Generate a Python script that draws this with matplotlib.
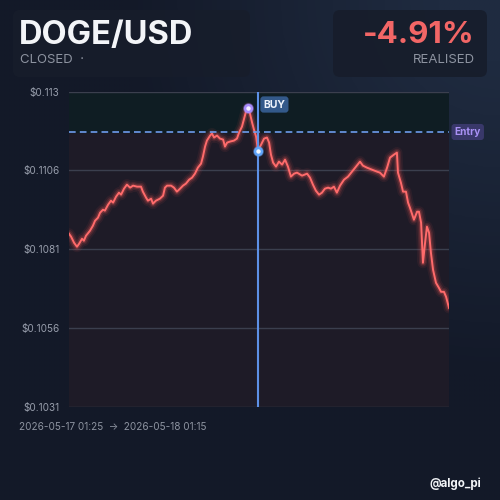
import numpy as np
import matplotlib.pyplot as plt
from matplotlib.patches import FancyBboxPatch

# minutes since 2026-05-17 01:25
minutes = [0, 8, 19, 30, 38, 49, 56, 64, 79, 90, 98, 109, 117, 128, 135, 147, 158, 166, 177, 188,
           196, 207, 218, 230, 241, 256, 271, 278, 290, 297, 309, 316, 327, 342, 354, 361, 369, 384,
           395, 406, 418, 429, 440, 452, 463, 474, 485, 497, 504, 512, 519, 531, 538, 546, 557, 568,
           580, 587, 595, 606, 621, 632, 640, 651, 659, 666, 674, 681, 689, 696, 704, 711, 723, 734,
           745, 753, 760, 768, 779, 790, 802, 813, 824, 835, 847, 858, 877, 896, 907, 918, 929, 941,
           952, 963, 975, 986, 997, 1008, 1020, 1035, 1050, 1065, 1080, 1095, 1106, 1121, 1140, 1159,
           1170, 1185, 1197, 1208, 1223, 1234, 1238, 1249, 1257, 1268, 1276, 1283, 1294, 1298, 1310,
           1317, 1325, 1332, 1340, 1347, 1355, 1362, 1370, 1381, 1392, 1400, 1411, 1419, 1430]
prices = [0.108546, 0.108451, 0.108262, 0.108136, 0.108231, 0.108388, 0.108325, 0.108483, 0.108640,
          0.108797, 0.108955, 0.109049, 0.109207, 0.109301, 0.109270, 0.109458, 0.109584, 0.109522,
          0.109710, 0.109836, 0.109773, 0.109962, 0.110088, 0.109994, 0.110057, 0.110025, 0.110025,
          0.109868, 0.109679, 0.109584, 0.109647, 0.109490, 0.109584, 0.109647, 0.109742, 0.109994,
          0.110057, 0.110057, 0.109994, 0.109868, 0.109962, 0.110057, 0.110120, 0.110245, 0.110308,
          0.110434, 0.110623, 0.110749, 0.110970, 0.111284, 0.111473, 0.111631, 0.111694, 0.111568,
          0.111631, 0.111536, 0.111505, 0.111284, 0.111410, 0.111442, 0.111473, 0.111536, 0.111725,
          0.111914, 0.112166, 0.112386, 0.112512, 0.112323, 0.112040, 0.111819, 0.111599, 0.111158,
          0.111347, 0.111536, 0.111568, 0.111410, 0.111032, 0.110781, 0.110655, 0.110812, 0.110718,
          0.110875, 0.110655, 0.110340, 0.110434, 0.110466, 0.110371, 0.110434, 0.110308, 0.110088,
          0.109899, 0.109773, 0.109836, 0.109962, 0.109994, 0.109962, 0.110025, 0.109836, 0.110057,
          0.110245, 0.110340, 0.110497, 0.110655, 0.110812, 0.110686, 0.110623, 0.110560, 0.110497,
          0.110466, 0.110340, 0.110623, 0.110938, 0.111032, 0.111095, 0.110466, 0.110151, 0.109868,
          0.109868, 0.109522, 0.109364, 0.109081, 0.108986, 0.109238, 0.109238, 0.108892, 0.107633,
          0.108262, 0.108766, 0.108577, 0.107947, 0.107412, 0.107003, 0.106846, 0.106720, 0.106720,
          0.106562, 0.106216]

entry_price = 0.111743
buy_minute = 711
buy_price = 0.111158
peak_minute = 674
peak_price = 0.112512

y_ticks = [0.1031, 0.10558, 0.10806, 0.11054, 0.1130]
y_labels = ["$0.1031", "$0.1056", "$0.1081", "$0.1106", "$0.113"]

plt.rcParams['font.family'] = ['Inter', 'DejaVu Sans']

fig = plt.figure(figsize=(5, 5), dpi=100)
fig.patch.set_facecolor('#131a28')

# background gradient (lighter toward top right)
bg = fig.add_axes([0, 0, 1, 1], zorder=-10)
gx, gy = np.meshgrid(np.linspace(0, 1, 200), np.linspace(0, 1, 200))
glow = np.clip(1.2 - np.hypot(gx - 1.0, gy - 1.0) * 1.6, 0, 1)
base = np.array([0x13, 0x19, 0x28]) / 255
light = np.array([0x1f, 0x2b, 0x40]) / 255
img = base[None, None, :] + glow[..., None] * (light - base)[None, None, :]
bg.imshow(img, extent=[0, 1, 0, 1], origin='lower', aspect='auto')
bg.axis('off')

# header cards
for x0, w in [(0.026, 0.474), (0.666, 0.308)]:
    card = FancyBboxPatch((x0, 0.846), w, 0.134, boxstyle='round,pad=0,rounding_size=0.014',
                          transform=fig.transFigure, facecolor='#171d2b', edgecolor='none',
                          alpha=0.9, zorder=-5)
    fig.patches.append(card)

fig.text(0.038, 0.930, 'DOGE/USD', color='#f3f5f8', fontsize=23.5, fontweight='bold', va='center')
fig.text(0.040, 0.880, 'CLOSED  ·', color='#8d93a0', fontsize=9.5, va='center')
fig.text(0.950, 0.930, '-4.91%', color='#f26666', fontsize=22.5, fontweight='bold', va='center', ha='right')
fig.text(0.950, 0.880, 'REALISED', color='#8d93a0', fontsize=9.5, va='center', ha='right')

ax = fig.add_axes([0.138, 0.186, 0.76, 0.630])
ax.set_facecolor('#1e1b27')
ax.set_xlim(0, 1430)
ax.set_ylim(y_ticks[0], y_ticks[-1])

# zone above entry
ax.axhspan(entry_price, y_ticks[-1], color='#0f1d23', zorder=0)

for v in y_ticks:
    ax.axhline(v, color='#3b3f4e', linewidth=1.0, zorder=1)

# glow + line
for lw, a in [(8, 0.07), (5.5, 0.12), (3.4, 0.22)]:
    ax.plot(minutes, prices, color='#ff5a5a', linewidth=lw, alpha=a, zorder=3,
            solid_joinstyle='round', solid_capstyle='round')
ax.plot(minutes, prices, color='#ff6b6b', linewidth=1.4, zorder=4, solid_joinstyle='round')

ax.axhline(entry_price, color='#6f9cec', linewidth=1.2, linestyle=(0, (4, 2.5)), zorder=5)
ax.axvline(buy_minute, color='#5d90e6', linewidth=1.5, zorder=5)

ax.scatter([peak_minute], [peak_price], s=60, color='#a78bfa', alpha=0.45, zorder=6, linewidths=0)
ax.scatter([peak_minute], [peak_price], s=24, color='#f4efff', edgecolors='#a78bfa', linewidths=1.7, zorder=7)
ax.scatter([buy_minute], [buy_price], s=60, color='#60a5fa', alpha=0.45, zorder=6, linewidths=0)
ax.scatter([buy_minute], [buy_price], s=24, color='#f0f6ff', edgecolors='#60a5fa', linewidths=1.7, zorder=7)

ax.annotate('BUY', xy=(buy_minute, y_ticks[-1]), xytext=(4, -9), textcoords='offset points',
            color='#eef3fb', fontsize=7.5, fontweight='bold', va='center', ha='left', zorder=8,
            bbox=dict(boxstyle='round,pad=0.3,rounding_size=0.3', facecolor='#33598a', edgecolor='none'))
ax.annotate('Entry', xy=(1430, entry_price), xytext=(4, 0), textcoords='offset points',
            color='#a991f5', fontsize=7.3, fontweight='bold', va='center', ha='left', zorder=8,
            annotation_clip=False,
            bbox=dict(boxstyle='round,pad=0.3,rounding_size=0.3', facecolor='#39386a', edgecolor='none'))

ax.set_yticks(y_ticks)
ax.set_yticklabels(y_labels)
ax.set_xticks([])
ax.tick_params(axis='y', length=0, pad=7, labelsize=7.2, labelcolor='#979dab')
for s in ax.spines.values():
    s.set_visible(False)

fig.text(0.038, 0.146, '2026-05-17 01:25  →  2026-05-18 01:15', color='#8d93a0', fontsize=7.2, va='center',
         family=['Inter', 'DejaVu Sans'])
fig.text(0.962, 0.032, '@algo_pi', color='#f3f5f8', fontsize=8.3, fontweight='bold', va='center', ha='right')

fig.savefig('out.png', dpi=100, facecolor=fig.get_facecolor())
